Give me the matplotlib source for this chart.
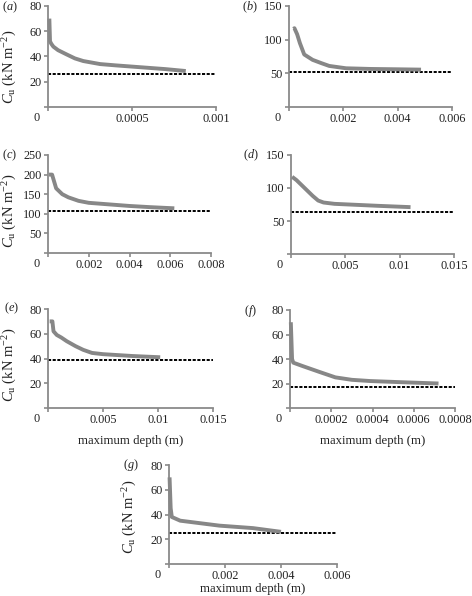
import matplotlib
matplotlib.use('Agg')
import matplotlib.pyplot as plt

# ---------------- data ----------------
a_x = [0.000008, 0.000012, 0.00002, 0.000032, 0.00006, 0.00011, 0.00016, 0.00021, 0.00031, 0.0004, 0.0005, 0.0006, 0.0007, 0.00082]
a_y = [70, 52, 50, 47.8, 45, 41.7, 38.5, 36.4, 34, 33, 32, 31, 30, 28.5]
a_base = 26

b_x = [0.00016, 0.0002, 0.0003, 0.0004, 0.00056, 0.00087, 0.0012, 0.00148, 0.0021, 0.003, 0.004, 0.00486]
b_y = [116, 117, 108, 95, 78, 70, 65, 61, 57.5, 56.5, 56, 55.5]
b_base = 52

c_x = [0.00005, 0.0002, 0.0004, 0.0007, 0.001, 0.0015, 0.002, 0.003, 0.004, 0.005, 0.0062]
c_y = [200, 200, 165, 150, 142, 133, 128, 124, 120, 117, 114]
c_base = 107

d_x = [0.0001, 0.0005, 0.001, 0.0015, 0.002, 0.0025, 0.003, 0.004, 0.006, 0.008, 0.011]
d_y = [117, 112, 104, 96, 88, 81, 78, 76, 74.5, 73, 71]
d_base = 64

e_x = [0.00015, 0.0004, 0.0005, 0.0008, 0.0012, 0.0017, 0.0025, 0.0032, 0.004, 0.005, 0.0077, 0.0102]
e_y = [70, 70, 62, 59, 57, 54, 50, 47, 44.5, 43.5, 42, 41]
e_base = 39

f_x = [0.000004, 0.00001, 0.000016, 0.00006, 0.00014, 0.00022, 0.0003, 0.00039, 0.00055, 0.00072]
f_y = [70, 40, 37, 34.3, 29.6, 25, 23, 22, 21, 20]
f_base = 17

g_x = [0.00002, 0.00006, 0.0001, 0.0004, 0.0018, 0.003, 0.004]
g_y = [70, 45, 38, 35, 31, 29, 26]
g_base = 25

a_xticks = [0, 0.0005, 0.001]; a_xlabels = ['0', '0.0005', '0.001']
b_xticks = [0, 0.002, 0.004, 0.006]; b_xlabels = ['0', '0.002', '0.004', '0.006']
c_xticks = [0, 0.002, 0.004, 0.006, 0.008]; c_xlabels = ['0', '0.002', '0.004', '0.006', '0.008']
d_xticks = [0, 0.005, 0.01, 0.015]; d_xlabels = ['0', '0.005', '0.01', '0.015']
e_xticks = [0, 0.005, 0.01, 0.015]; e_xlabels = ['0', '0.005', '0.01', '0.015']
f_xticks = [0, 0.0002, 0.0004, 0.0006, 0.0008]; f_xlabels = ['0', '0.0002', '0.0004', '0.0006', '0.0008']
g_xticks = [0, 0.002, 0.004, 0.006]; g_xlabels = ['0', '0.002', '0.004', '0.006']

a_yticks = [0, 20, 40, 60, 80]
b_yticks = [0, 50, 100, 150]
c_yticks = [0, 50, 100, 150, 200, 250]
d_yticks = [0, 50, 100, 150]
e_yticks = [0, 20, 40, 60, 80]
f_yticks = [0, 20, 40, 60, 80]
g_yticks = [0, 20, 40, 60, 80]

panel_letters = ['a', 'b', 'c', 'd', 'e', 'f', 'g']
ylabel_text = r'$C_{\mathrm{u}}$ (kN m$^{-2}$)'
xlabel_text = 'maximum depth (m)'

# ---------------- style ----------------
plt.rcParams['font.family'] = ['Liberation Serif', 'DejaVu Serif']
plt.rcParams['mathtext.fontset'] = 'custom'
plt.rcParams['mathtext.rm'] = 'Liberation Serif'
plt.rcParams['mathtext.it'] = 'Liberation Serif:italic'
plt.rcParams['mathtext.bf'] = 'Liberation Serif:bold'

W, H = 472, 596
fig = plt.figure(figsize=(W / 100, H / 100), dpi=100)

AX_COL = '#8a8a8a'
CURVE_COL = '#878787'
TXT_COL = '#222222'

# layout in pixels: left, right, top, bottom
layout = {
    'a': (48, 216, 6, 107),
    'b': (289, 452, 6, 107),
    'c': (48, 211, 155, 253),
    'd': (291, 454, 155, 254),
    'e': (48, 213, 309, 408),
    'f': (290, 455, 310, 408),
    'g': (169, 337, 465, 564),
}
letter_pos = {
    'a': (10, 7), 'b': (250, 7), 'c': (10, 155), 'd': (251, 155),
    'e': (12, 308), 'f': (250, 311), 'g': (131, 465),
}
ylabel_pos = {'a': (10, 67), 'c': (10, 211), 'e': (10, 365), 'g': (130, 517)}
with_xlabel = {'e': 441, 'f': 441, 'g': 589}

panels = {
    'a': (a_x, a_y, a_base, a_xticks, a_xlabels, a_yticks),
    'b': (b_x, b_y, b_base, b_xticks, b_xlabels, b_yticks),
    'c': (c_x, c_y, c_base, c_xticks, c_xlabels, c_yticks),
    'd': (d_x, d_y, d_base, d_xticks, d_xlabels, d_yticks),
    'e': (e_x, e_y, e_base, e_xticks, e_xlabels, e_yticks),
    'f': (f_x, f_y, f_base, f_xticks, f_xlabels, f_yticks),
    'g': (g_x, g_y, g_base, g_xticks, g_xlabels, g_yticks),
}

FS = 8.8
for key in panel_letters:
    xs, ys, base, xt, xl, yt = panels[key]
    l, r, t, b = layout[key]
    ax = fig.add_axes([l / W, 1 - b / H, (r - l) / W, (b - t) / H])
    xmax = xt[-1]
    ymax = yt[-1]
    ax.plot(xs, ys, color=CURVE_COL, lw=2.8, solid_capstyle='butt', zorder=3,
            clip_on=False)
    ax.plot([0, xmax], [base, base], color='black', lw=1.4,
            linestyle=(0, (1.6, 0.8)), zorder=2)
    ax.set_xlim(0, xmax)
    ax.set_ylim(0, ymax)
    for s in ['top', 'right']:
        ax.spines[s].set_visible(False)
    for s in ['left', 'bottom']:
        ax.spines[s].set_color(AX_COL)
        ax.spines[s].set_linewidth(1.3)
    ax.set_xticks(xt)
    ax.set_xticklabels([''] + xl[1:])
    ax.set_yticks(yt)
    ax.set_yticklabels([''] + [str(v) for v in yt[1:]])
    ax.tick_params(axis='both', direction='out', length=3, width=1.2,
                   color=AX_COL, labelsize=FS, labelcolor=TXT_COL)
    ax.tick_params(axis='x', pad=1.0)
    ax.tick_params(axis='y', pad=1.5)
    ax.annotate(xl[0], xy=(0, 0), xycoords='axes fraction', xytext=(-11, -11),
                textcoords='offset pixels', ha='center', va='center',
                fontsize=FS, color=TXT_COL)
    lx, ly = letter_pos[key]
    fig.text(lx / W, 1 - ly / H, r'($\mathit{%s}$)' % key, fontsize=FS,
             ha='center', va='center', color=TXT_COL)
    if key in ylabel_pos:
        yx, yy = ylabel_pos[key]
        fig.text(yx / W, 1 - yy / H, ylabel_text, rotation=90,
                 fontsize=10.5, ha='center', va='center', color=TXT_COL)
    if key in with_xlabel:
        fig.text(((l + r) / 2) / W, 1 - with_xlabel[key] / H, xlabel_text,
                 fontsize=9.2, ha='center', va='center', color=TXT_COL)

fig.savefig('out.png', dpi=100)
